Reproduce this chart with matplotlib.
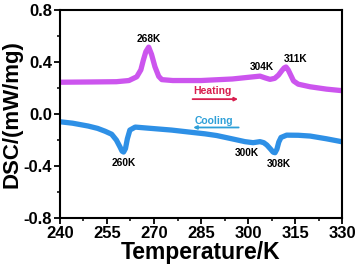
import matplotlib
matplotlib.use("Agg")
import matplotlib.pyplot as plt
from matplotlib.ticker import MultipleLocator

plt.rcParams['font.family'] = ['Liberation Sans', 'DejaVu Sans']
plt.rcParams['font.weight'] = 'bold'

# heating curve (K, mW/mg)
heat_T = [240, 250, 258, 262, 264.5, 265.8, 266.6, 267.4, 268.3, 269.2, 270.3, 271.5, 272.5,
          276, 285, 295, 301, 303.8, 305.5, 307, 308.5, 309.7, 310.8, 311.5, 312.1,
          312.8, 313.6, 314.5, 316, 319.8, 325, 330]
heat_v = [0.245, 0.247, 0.249, 0.258, 0.287, 0.34, 0.415, 0.48, 0.515, 0.46, 0.364, 0.29, 0.265,
          0.258, 0.258, 0.27, 0.285, 0.292, 0.278, 0.267, 0.275, 0.30, 0.335, 0.355, 0.362,
          0.34, 0.30, 0.255, 0.23, 0.21, 0.192, 0.18]

# cooling curve
cool_T = [240, 244, 249, 252, 254.4, 256.5, 258, 259.2, 259.8, 260.3, 260.9, 261.5, 262.3,
          264, 268, 275.6, 280, 286.3, 290, 295.2, 299, 301.6, 303.8, 305, 306, 307.2,
          308, 308.6, 309.2, 309.8, 310.5, 312.3, 316, 319.8, 325, 330]
cool_v = [-0.059, -0.07, -0.092, -0.11, -0.132, -0.155, -0.2, -0.255, -0.285, -0.292, -0.265, -0.19, -0.123,
          -0.1, -0.108, -0.123, -0.135, -0.152, -0.165, -0.192, -0.212, -0.22, -0.212, -0.22, -0.238, -0.27,
          -0.293, -0.297, -0.27, -0.215, -0.18, -0.162, -0.163, -0.169, -0.19, -0.213]

# peak labels (text, x, y)
peak_labels = [("268K", 268.2, 0.58), ("304K", 304.4, 0.364), ("311K", 315.2, 0.42),
               ("260K", 260.2, -0.38), ("300K", 299.6, -0.298), ("308K", 309.7, -0.385)]

heat_color = '#cc55ee'
cool_color = '#2e90e6'

fig = plt.figure(figsize=(3.59, 2.65), dpi=100)
ax = fig.add_axes([0.167, 0.177, 0.786, 0.785])

ax.plot(heat_T, heat_v, color=heat_color, lw=3.8, solid_capstyle='butt')
ax.plot(cool_T, cool_v, color=cool_color, lw=3.8, solid_capstyle='butt')

for txt, x, y in peak_labels:
    ax.text(x, y, txt, ha='center', va='center', fontsize=7.3, fontweight='bold')

ax.text(288.5, 0.177, "Heating", color='#d81e4e', ha='center', va='center',
        fontsize=7.5, fontweight='bold')
ax.annotate("", xy=(296.8, 0.115), xytext=(282.3, 0.115),
            arrowprops=dict(arrowstyle='-|>', color='#d81e4e', lw=1.3, mutation_scale=5,
                            shrinkA=0, shrinkB=0))
ax.text(289, -0.05, "Cooling", color='#2fa0d8', ha='center', va='center',
        fontsize=7.5, fontweight='bold')
ax.annotate("", xy=(282.5, -0.103), xytext=(297, -0.103),
            arrowprops=dict(arrowstyle='-|>', color='#2fa0d8', lw=1.3, mutation_scale=5,
                            shrinkA=0, shrinkB=0))

ax.set_xlim(240, 330)
ax.set_ylim(-0.8, 0.8)
ax.xaxis.set_major_locator(MultipleLocator(15))
ax.xaxis.set_minor_locator(MultipleLocator(7.5))
ax.yaxis.set_major_locator(MultipleLocator(0.4))
ax.yaxis.set_minor_locator(MultipleLocator(0.2))
ax.tick_params(which='major', direction='out', length=4, width=1.3, labelsize=12, pad=1.5)
ax.tick_params(which='minor', direction='out', length=2.5, width=1.1)
ax.set_yticklabels([f"{v:.1f}" for v in ax.get_yticks()])
for s in ax.spines.values():
    s.set_linewidth(1.5)

ax.set_xlabel("Temperature/K", fontsize=16.5, fontweight='bold', labelpad=0)
ax.set_ylabel("DSC/(mW/mg)", fontsize=16, fontweight='bold', labelpad=1)

fig.savefig("out.png", dpi=100)
